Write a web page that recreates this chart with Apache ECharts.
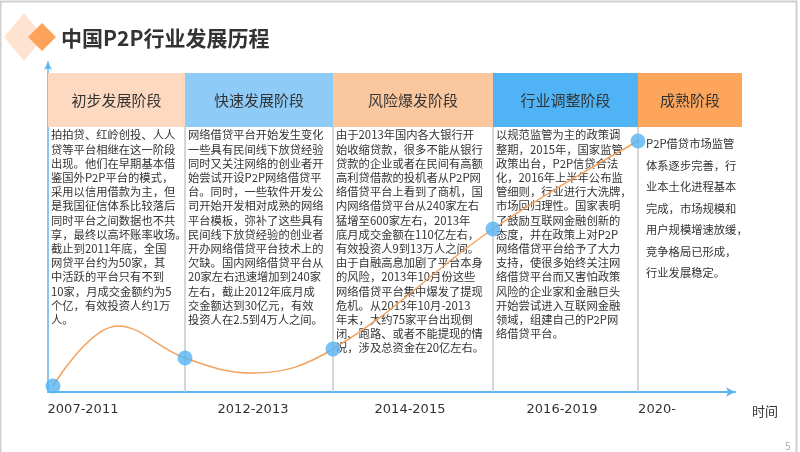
<!DOCTYPE html>
<html>
<head>
<meta charset="utf-8">
<script src="https://cdn.jsdelivr.net/npm/echarts@6/dist/echarts.min.js"></script>
<style>html,body{margin:0;padding:0;background:#fff}#main{width:800px;height:452px}</style>
</head>
<body>
<div id="main"></div>
<script>
// stage boundaries along the time axis (axis units from the origin)
var stageEdges = [0, 137, 285, 445, 590, 694];
var stageNames = ['初步发展阶段', '快速发展阶段', '风险爆发阶段', '行业调整阶段', '成熟阶段'];
var stageColors = ['#fcd9c0', '#8fcbf7', '#fbc79f', '#4fb3f6', '#fda55a'];
var periodLabels = ['2007-2011', '2012-2013', '2014-2015', '2016-2019', '2020-'];
var periodX = [35, 205, 362, 514, 609];
// development curve: x position, level
var curveX = [5, 70, 137, 205, 285, 445, 590];
var curveY = [6, 66, 34, 19, 43, 163, 251];
var dotX = [5, 137, 285, 445, 590];
var dotY = [6, 34, 43, 163, 251];

var stageTexts = [
    '拍拍贷、红岭创投、人人\n贷等平台相继在这一阶段\n出现。他们在早期基本借\n鉴国外P2P平台的模式，\n采用以信用借款为主，但\n是我国征信体系比较落后\n同时平台之间数据也不共\n享，最终以高坏账率收场。\n截止到2011年底，全国\n网贷平台约为50家，其\n中活跃的平台只有不到\n10家，月成交金额约为5\n个亿，有效投资人约1万\n人。',
    '网络借贷平台开始发生变化\n一些具有民间线下放贷经验\n同时又关注网络的创业者开\n始尝试开设P2P网络借贷平\n台。同时，一些软件开发公\n司开始开发相对成熟的网络\n平台模板，弥补了这些具有\n民间线下放贷经验的创业者\n开办网络借贷平台技术上的\n欠缺。国内网络借贷平台从\n20家左右迅速增加到240家\n左右，截止2012年底月成\n交金额达到30亿元，有效\n投资人在2.5到4万人之间。',
    '由于2013年国内各大银行开\n始收缩贷款，很多不能从银行\n贷款的企业或者在民间有高额\n高利贷借款的投机者从P2P网\n络借贷平台上看到了商机，国\n内网络借贷平台从240家左右\n猛增至600家左右，2013年\n底月成交金额在110亿左右，\n有效投资人9到13万人之间。\n由于自融高息加剧了平台本身\n的风险，2013年10月份这些\n网络借贷平台集中爆发了提现\n危机。从2013年10月-2013\n年末，大约75家平台出现倒\n闭、跑路、或者不能提现的情\n况，涉及总资金在20亿左右。',
    '以规范监管为主的政策调\n整期，2015年，国家监管\n政策出台，P2P信贷合法\n化，2016年上半年公布监\n管细则，行业进行大洗牌，\n市场回归理性。国家表明\n了鼓励互联网金融创新的\n态度，并在政策上对P2P\n网络借贷平台给予了大力\n支持，使很多始终关注网\n络借贷平台而又害怕政策\n风险的企业家和金融巨头\n开始尝试进入互联网金融\n领域，组建自己的P2P网\n络借贷平台。',
    'P2P借贷市场监管\n体系逐步完善，行\n业本土化进程基本\n完成，市场规模和\n用户规模增速放缓，\n竞争格局已形成，\n行业发展稳定。'
];

var FONT = '"Noto Sans CJK SC", "Noto Sans", sans-serif';
var chart = echarts.init(document.getElementById('main'));
var curveData = curveX.map(function (x, i) { return [x, curveY[i]]; });
var dotData = dotX.map(function (x, i) { return [x, dotY[i]]; });

chart.setOption({
    animation: false,
    grid: { left: 48, right: 65, top: 62, bottom: 60 },
    xAxis: {
        type: 'value', min: 0, max: 687,
        axisLine: { show: true, symbol: ['none', 'arrow'], symbolSize: [7, 9], lineStyle: { color: '#5bb5f0', width: 2 } },
        axisTick: { show: false }, axisLabel: { show: false }, splitLine: { show: false }
    },
    yAxis: {
        type: 'value', min: 0, max: 330,
        axisLine: { show: true, symbol: ['none', 'arrow'], symbolSize: [6, 8], lineStyle: { color: '#5bb5f0', width: 1.5 } },
        axisTick: { show: false }, axisLabel: { show: false }, splitLine: { show: false }
    },
    series: [{
        type: 'line', data: curveData, smooth: 0.4, showSymbol: false, z: 5,
        lineStyle: { color: '#f3a35f', width: 1.5 }
    }, {
        type: 'scatter', data: dotData, symbolSize: 15, z: 6,
        itemStyle: { color: '#55b4f5' }
    }]
});

function px(x, y) { return chart.convertToPixel({ gridIndex: 0 }, [x, y]); }

var g = [];
// frame
g.push({ type: 'rect', shape: { x: 0.5, y: 1.5, width: 796, height: 460 }, style: { fill: null, stroke: '#cfcfcf', lineWidth: 2 }, z: 1 });
// diamonds + title
g.push({ type: 'polygon', shape: { points: [[24, 13], [44, 37], [24, 61], [4, 37]] }, style: { fill: '#fde3d0' }, z: 2 });
g.push({ type: 'polygon', shape: { points: [[42, 23], [56, 37], [42, 51], [28, 37]] }, style: { fill: '#fba35a' }, z: 3 });
g.push({ type: 'text', x: 61, y: 38, style: { text: '中国P2P行业发展历程', font: 'bold 21px ' + FONT, fill: '#333', verticalAlign: 'middle' }, z: 3 });

var headTop = 73, headBottom = 127;
var base = px(0, 0)[1];
for (var i = 0; i < stageNames.length; i++) {
    var x0 = px(stageEdges[i], 0)[0], x1 = px(stageEdges[i + 1], 0)[0];
    g.push({ type: 'rect', shape: { x: x0, y: headTop, width: x1 - x0, height: headBottom - headTop }, style: { fill: stageColors[i] }, z: 2 });
    g.push({ type: 'text', x: (x0 + x1) / 2, y: (headTop + headBottom) / 2, style: { text: stageNames[i], font: '15px ' + FONT, fill: '#333', align: 'center', verticalAlign: 'middle' }, z: 3 });
    if (i > 0) {
        g.push({ type: 'line', shape: { x1: x0, y1: headBottom, x2: x0, y2: base }, style: { stroke: '#c8c8c8', lineWidth: 1.5 }, z: 2 });
    }
    var last = i === stageNames.length - 1;
    g.push({ type: 'text', x: x0 + (last ? 8 : 3), y: last ? 133 : 128, style: { text: stageTexts[i], font: '11.3px ' + FONT, fill: '#333', lineHeight: last ? 21.5 : 14.2 }, z: 3 });
    g.push({ type: 'text', x: px(periodX[i], 0)[0], y: 410, style: { text: periodLabels[i], font: '13px "DejaVu Sans", sans-serif', fill: '#333', align: 'center', verticalAlign: 'middle' }, z: 3 });
}
g.push({ type: 'text', x: 765, y: 411, style: { text: '时间', font: '13px ' + FONT, fill: '#333', align: 'center', verticalAlign: 'middle' }, z: 3 });
g.push({ type: 'text', x: 785, y: 441, style: { text: '5', font: '10px ' + FONT, fill: '#aaa' }, z: 3 });

chart.setOption({ graphic: g });
</script>
</body>
</html>
